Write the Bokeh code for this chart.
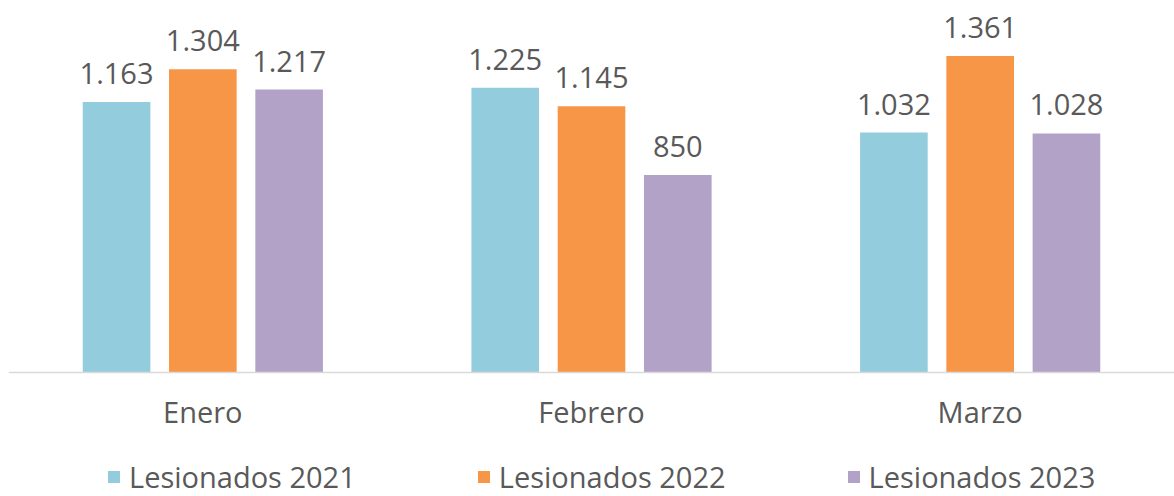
from bokeh.plotting import figure
from bokeh.models import ColumnDataSource, FactorRange, Range1d, LabelSet, Legend, LegendItem, Span
from bokeh.core.properties import value
from bokeh.transform import dodge
from bokeh.embed import file_html
from bokeh.resources import INLINE

months = ["Enero", "Febrero", "Marzo"]
series_names = ["Lesionados 2021", "Lesionados 2022", "Lesionados 2023"]
v2021 = [1163, 1225, 1032]
v2022 = [1304, 1145, 1361]
v2023 = [1217, 850, 1028]
colors = ["#93CDDD", "#F79646", "#B3A2C7"]
offsets = [-0.222, 0.0, 0.222]

FONT = "Open Sans"
TXT = "#595959"

p = figure(x_range=FactorRange(*months, range_padding=0), y_range=Range1d(-533.3, 1600),
           width=1174, height=496, output_backend="svg", toolbar_location=None,
           min_border_left=8, min_border_right=0, min_border_top=0, min_border_bottom=0)
p.outline_line_color = None
p.xgrid.visible = False
p.ygrid.visible = False
p.yaxis.visible = False
p.xaxis.visible = False

def fmt(v):
    return f"{v:,}".replace(",", ".")

p.add_layout(Span(location=0, dimension="width", line_color="#d9d9d9", line_width=1.5))

items = []
for name, vals, col, off in zip(series_names, [v2021, v2022, v2023], colors, offsets):
    src = ColumnDataSource(dict(m=months, v=vals, t=[fmt(v) for v in vals]))
    r = p.vbar(x=dodge("m", off, range=p.x_range), top="v", width=0.174, source=src,
               fill_color=col, line_color=None)
    items.append(LegendItem(label=name, renderers=[r]))
    lbl = LabelSet(x=dodge("m", off, range=p.x_range), y="v", text="t", source=src,
                   text_align="center", text_baseline="alphabetic", y_offset=18,
                   text_font=value(FONT), text_font_size=value("29px"), text_color=TXT)
    p.add_layout(lbl)

cat_src = ColumnDataSource(dict(m=months, base=[0] * len(months)))
cats = LabelSet(x="m", y="base", text="m", source=cat_src, text_align="center",
                text_baseline="alphabetic", y_offset=-50,
                text_font=value(FONT), text_font_size=value("29px"), text_color=TXT)
p.add_layout(cats)

legend = Legend(items=items, orientation="horizontal", location=(98, 0),
                glyph_width=15, glyph_height=15, label_standoff=8, spacing=120,
                padding=0, margin=0, border_line_color=None, background_fill_alpha=0,
                label_text_font=FONT, label_text_font_size="29px", label_text_color=TXT)
p.add_layout(legend, "center")

open("out.html", "w").write(file_html(p, INLINE))
